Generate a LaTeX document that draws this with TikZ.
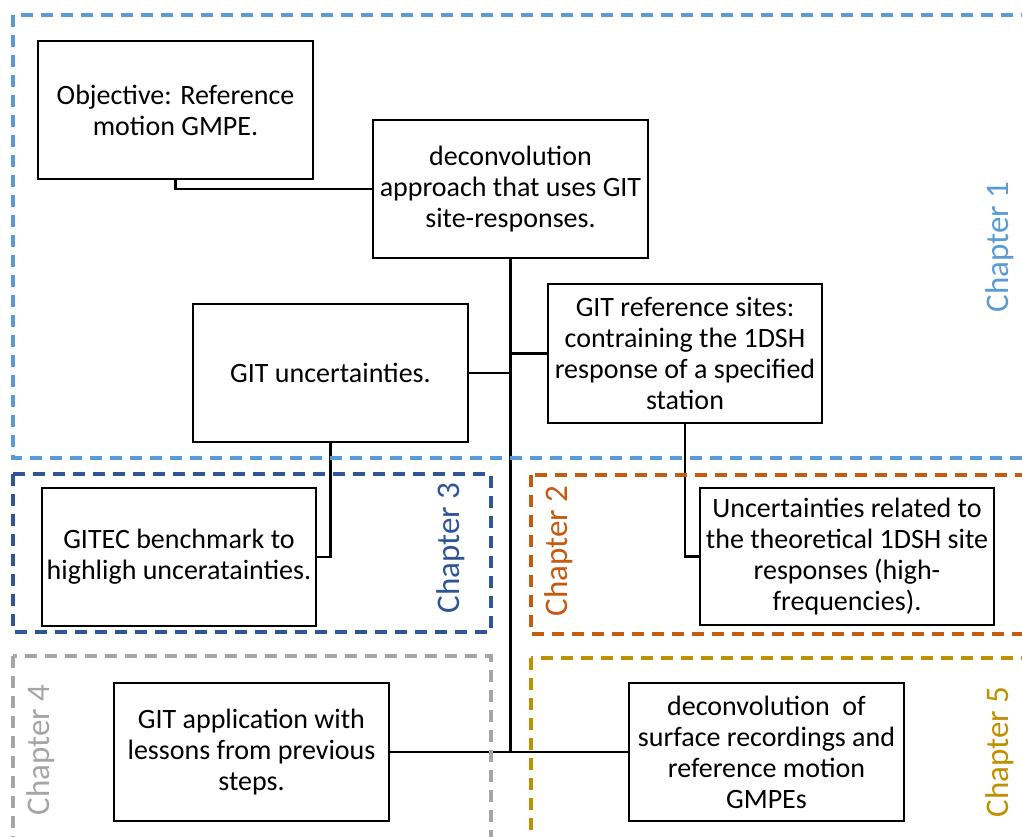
\documentclass[tikz,border=0pt]{standalone}
\usepackage{fontspec}
\setmainfont{Carlito}
\definecolor{chone}{HTML}{5B9BD5}
\definecolor{chtwo}{HTML}{C55A11}
\definecolor{chthree}{HTML}{2F5597}
\definecolor{chfour}{HTML}{A5A5A5}
\definecolor{chfive}{HTML}{BF9000}
\begin{document}
\begin{tikzpicture}[x=0.5pt,y=-0.5pt,
  stepbox/.style={draw=black,line width=1.1pt,fill=white,rectangle,
    minimum width=137.5pt,minimum height=69pt,inner sep=0pt,align=center,
    font=\fontsize{14}{15.5}\selectfont},
  frame/.style={line width=1.6pt,dash pattern=on 6pt off 4pt},
  chlabel/.style={rotate=90,font=\fontsize{16.5}{19}\selectfont,inner sep=0pt},
  link/.style={draw=black,line width=1.1pt},
  trunk/.style={draw=black,line width=1.6pt}]
\useasboundingbox (0,0) rectangle (1022,836);
\clip (0,0) rectangle (1022,836);

% boxes
\node[stepbox] (obj) at (175.5,110) {Objective: Reference\\motion GMPE.};
\node[stepbox] (dec) at (510.5,189) {deconvolution\\approach that uses GIT\\site-responses.};
\node[stepbox] (unc) at (330.5,373) {GIT uncertainties.};
\node[stepbox,minimum width=137pt,minimum height=69.5pt] (ref) at (685,353.5)
  {GIT reference sites:\\contraining the 1DSH\\response of a specified\\station};
\node[stepbox,minimum width=137pt] (gitec) at (179,557) {GITEC benchmark to\\highligh unceratainties.};
\node[stepbox,minimum width=147pt,minimum height=68.5pt] (utheo) at (847,556.5)
  {Uncertainties related to\\the theoretical 1DSH site\\responses (high-\\frequencies).};
\node[stepbox] (app) at (251.5,752) {GIT application with\\lessons from previous\\steps.};
\node[stepbox] (dsurf) at (766.5,752) {deconvolution~ of\\surface recordings and\\reference motion\\GMPEs};

% connectors
\coordinate (tb) at (dec.south |- app.east);
\draw[trunk] (dec.south) -- (tb);
\draw[link] (obj.south) |- (dec.west);
\draw[link] (unc.east) -- (unc.east -| dec.south);
\draw[link] (ref.west) -- (ref.west -| dec.south);
\draw[link] (unc.south) |- (gitec.east);
\draw[link] (ref.south) |- (utheo.west);
\draw[link] (app.east) -- (tb);
\draw[link] (tb) -- (dsurf.west);

% chapter frames
\draw[frame,chone] (13,15) rectangle (1060,458);
\draw[frame,chthree] (13,474) rectangle (491,632);
\draw[frame,chtwo] (531,475) rectangle (1060,634);
\draw[frame,chfour] (13,656) rectangle (491,880);
\draw[frame,chfive] (531,658) rectangle (1060,880);

% chapter labels
\node[chlabel,text=chone] (c1) at (1000,247) {Chapter 1};
\node[chlabel,text=chtwo] (c2) at (559,551) {Chapter 2};
\node[chlabel,text=chthree] (c3) at (451,548) {Chapter 3};
\node[chlabel,text=chfour] (c4) at (41,750) {Chapter 4};
\node[chlabel,text=chfive] (c5) at (1000,752) {Chapter 5};
\end{tikzpicture}
\end{document}
